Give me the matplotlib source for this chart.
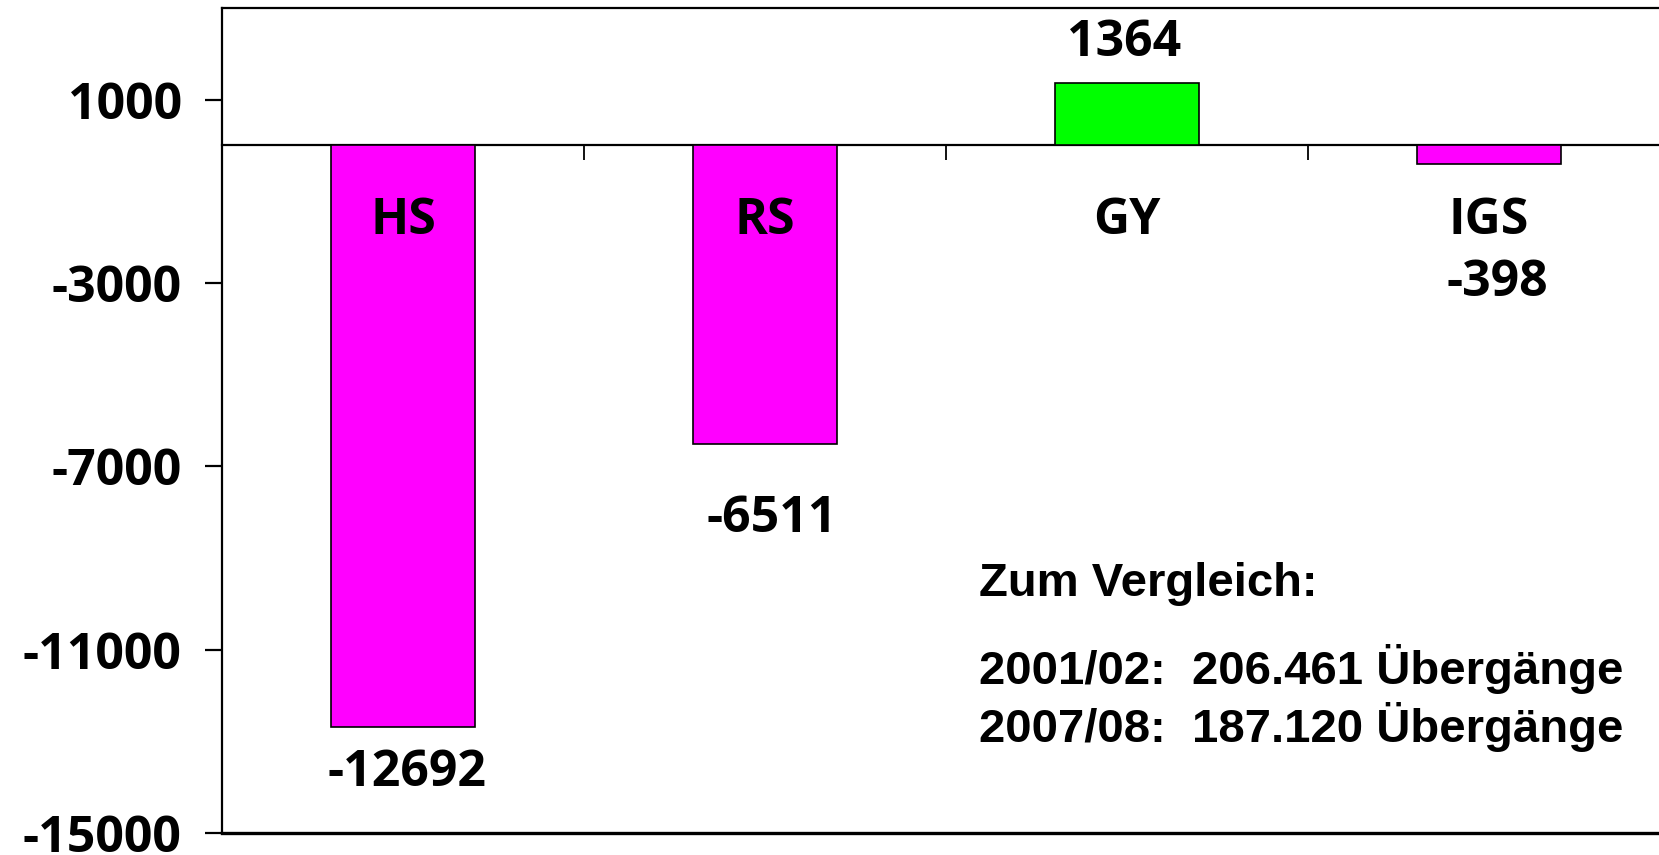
import matplotlib
matplotlib.use('Agg')
from matplotlib import pyplot as plt

# data
schools = ['HS', 'RS', 'GY', 'IGS']
change = [-12692, -6511, 1364, -398]
bar_colors = ['#ff00ff', '#ff00ff', '#00ff00', '#ff00ff']
yticks = [1000, -3000, -7000, -11000, -15000]
note_title = 'Zum Vergleich:'
note_lines = ['2001/02:  206.461 Übergänge', '2007/08:  187.120 Übergänge']

fs = 36
lab_font = dict(family='Open Sans', weight='bold', size=fs)

fig = plt.figure(figsize=(16.59, 8.55), dpi=100)
ax = fig.add_axes([222/1659, 1 - 833/855, 1 - 222/1659, (833 - 8)/855])

x = list(range(len(schools)))
ax.bar(x, change, width=0.4, color=bar_colors, edgecolor='black', linewidth=1.2, zorder=3)

ax.set_xlim(-0.5, -0.5 + (1659 - 222)/362.)
ax.set_ylim(-15000, 3000)

# category axis sits on zero
ax.spines['bottom'].set_position(('data', 0))
ax.spines['right'].set_visible(False)
for s in ['top', 'left', 'bottom']:
	ax.spines[s].set_linewidth(1.6)
ax.axhline(-15000, color='black', lw=2.4, clip_on=False)
ax.set_xticks([0.5, 1.5, 2.5])
ax.set_xticklabels([])
ax.tick_params(axis='x', direction='out', length=11, width=1.3)

ax.set_yticks(yticks)
ax.set_yticklabels([str(v) for v in yticks], fontdict=lab_font)
ax.tick_params(axis='y', direction='out', length=12, width=1.6, pad=17)

# school names just below the zero line
for i, name in enumerate(schools):
	ax.annotate(name, xy=(i, 0), xytext=(0, -54), textcoords='offset points',
		ha='center', va='center', **lab_font)

# value labels, offsets (points)
val_off = [(3, -33), (5, -54), (-2, 29), (6, -86)]
for i, v in enumerate(change):
	ax.annotate(str(v), xy=(i, v), xytext=val_off[i], textcoords='offset points',
		ha='center', va='center', **lab_font)

note_font = dict(family='Liberation Sans', weight='bold', size=34)
fig.text(979/1659, 1 - 584/855, note_title, ha='left', va='center', **note_font)
fig.text(979/1659, 1 - 669/855, note_lines[0], ha='left', va='center', **note_font)
fig.text(979/1659, 1 - 727/855, note_lines[1], ha='left', va='center', **note_font)

fig.savefig('out.png', dpi=100)
